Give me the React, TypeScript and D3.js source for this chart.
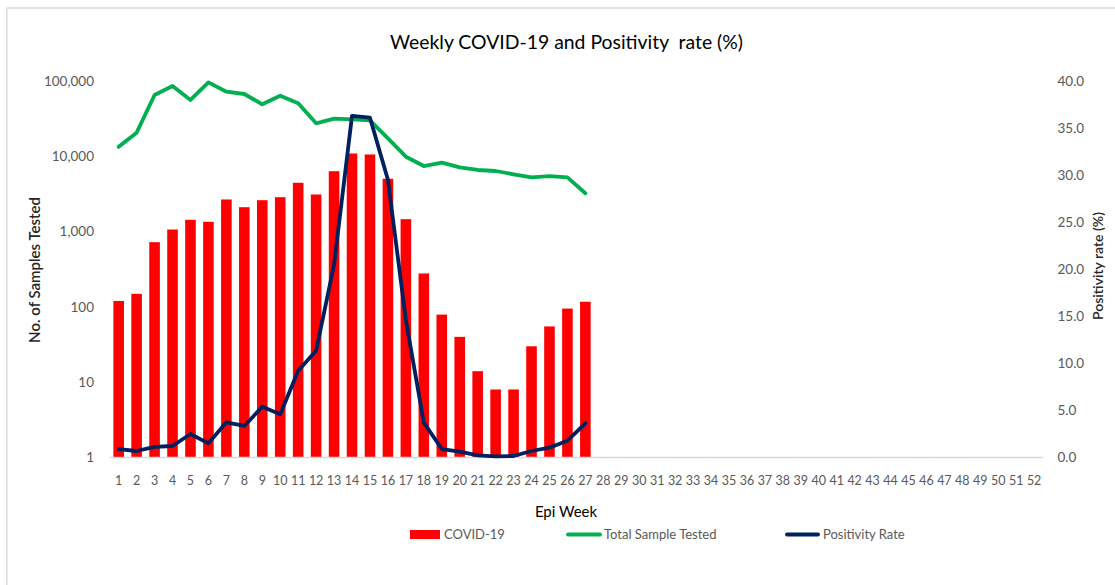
import React from "react";
import * as d3 from "d3";

const weeks: number[] = Array.from({ length: 52 }, (_, i) => i + 1);
const covidWeeks: number[] = [1,2,3,4,5,6,7,8,9,10,11,12,13,14,15,16,17,18,19,20,21,22,23,24,25,26,27];
const covidCases: number[] = [120,149,723,1066,1435,1349,2670,2110,2612,2864,4450,3110,6340,10900,10570,5030,1462,278,79,40,14,8,8,30,55,95,117];
const totalTested: number[] = [13400,20600,65200,85900,56000,96000,72100,67200,49000,63800,50600,27400,31600,30900,30000,17300,9880,7430,8220,7140,6580,6380,5770,5260,5470,5260,3230];
const positivity: number[] = [0.9,0.69,1.12,1.22,2.5,1.5,3.74,3.35,5.4,4.59,9.22,11.35,20.5,36.3,36.1,29.5,14.6,3.7,0.9,0.62,0.23,0.13,0.16,0.69,1.04,1.79,3.63];
const leftTicks: number[] = [1, 10, 100, 1000, 10000, 100000];
const rightTicks: number[] = [0, 5, 10, 15, 20, 25, 30, 35, 40];

const FONT = "Lato, 'Open Sans', sans-serif";
const TICK_COLOR = "#595959";

export default function App() {
  const W = 1115, H = 585;
  const x = d3.scaleBand<number>().domain(weeks).range([109.7, 1043.1]).paddingInner(0.41).paddingOuter(0.205);
  const xc = (w: number) => (x(w) as number) + x.bandwidth() / 2;
  const yL = d3.scaleLog().domain([1, 100000]).range([457.5, 81]);
  const yR = d3.scaleLinear().domain([0, 40]).range([457.5, 81]);

  const greenLine = d3.line<number>().x((_, i) => xc(covidWeeks[i])).y((d) => yL(d))(totalTested) as string;
  const navyLine = d3.line<number>().x((_, i) => xc(covidWeeks[i])).y((d) => yR(d))(positivity) as string;
  const fmt = d3.format(",");

  return (
    <svg width={W} height={H} style={{ position: "absolute", left: 0, top: 0, display: "block", background: "#fff" }}>
      <rect x={0} y={0} width={W} height={H} fill="#fff" />
      {/* chart border */}
      <line x1={6.7} y1={8} x2={W} y2={8} stroke="#d9d9d9" strokeWidth={1.5} />
      <line x1={6.7} y1={8} x2={6.7} y2={H} stroke="#d9d9d9" strokeWidth={1.5} />

      <text x={566.5} y={49} textAnchor="middle" fontFamily={FONT} fontSize={20} fill="#000" textLength={353} lengthAdjust="spacingAndGlyphs">
        {"Weekly COVID-19 and Positivity\u00a0 rate (%)"}
      </text>

      {/* bars */}
      {covidCases.map((v, i) => (
        <rect key={"b" + i} x={x(covidWeeks[i])} y={yL(v)} width={x.bandwidth()} height={yL(1) - yL(v)} fill="#FF0000" />
      ))}

      {/* x axis line */}
      <line x1={109.7} y1={457.5} x2={1043.1} y2={457.5} stroke="#d9d9d9" strokeWidth={1.5} />

      {/* lines */}
      <path d={greenLine} fill="none" stroke="#00B050" strokeWidth={3.8} strokeLinejoin="round" strokeLinecap="round" />
      <path d={navyLine} fill="none" stroke="#002060" strokeWidth={3.8} strokeLinejoin="round" strokeLinecap="round" />

      {/* left ticks */}
      {leftTicks.map((t) => (
        <text key={"l" + t} x={94} y={yL(t) + 4.8} textAnchor="end" fontFamily={FONT} fontSize={13.5} fill={TICK_COLOR}>
          {fmt(t)}
        </text>
      ))}
      {/* right ticks */}
      {rightTicks.map((t) => (
        <text key={"r" + t} x={1057.5} y={yR(t) + 4.8} textAnchor="start" fontFamily={FONT} fontSize={13.5} fill={TICK_COLOR}>
          {t.toFixed(1)}
        </text>
      ))}
      {/* x ticks */}
      {weeks.map((w) => (
        <text key={"x" + w} x={xc(w)} y={485} textAnchor="middle" fontFamily={FONT} fontSize={12.5} fill={TICK_COLOR}>
          {w}
        </text>
      ))}

      {/* axis titles */}
      <text transform="translate(40,270) rotate(-90)" textAnchor="middle" fontFamily={FONT} fontSize={15} fontWeight={600} fill="#262626">
        No. of Samples Tested
      </text>
      <text transform="translate(1103,266) rotate(-90)" textAnchor="middle" fontFamily={FONT} fontSize={14} fontWeight={600} fill="#262626">
        Positivity rate (%)
      </text>
      <text x={566} y={517} textAnchor="middle" fontFamily={FONT} fontSize={15} fill="#000">
        Epi Week
      </text>

      {/* legend */}
      <rect x={410} y={530} width={30} height={9} fill="#FF0000" />
      <text x={444} y={539} fontFamily={FONT} fontSize={13} fill={TICK_COLOR}>COVID-19</text>
      <line x1={568} y1={534.5} x2={600} y2={534.5} stroke="#00B050" strokeWidth={3.8} strokeLinecap="round" />
      <text x={604} y={539} fontFamily={FONT} fontSize={13} fill={TICK_COLOR}>Total Sample Tested</text>
      <line x1={787} y1={534.5} x2={818} y2={534.5} stroke="#002060" strokeWidth={3.8} strokeLinecap="round" />
      <text x={823} y={539} fontFamily={FONT} fontSize={13} fill={TICK_COLOR}>Positivity Rate</text>
    </svg>
  );
}
